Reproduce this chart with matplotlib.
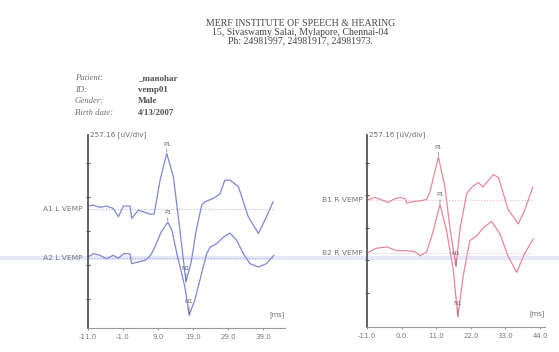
import numpy as np
import matplotlib.pyplot as plt

# header / patient block
header = ["MERF INSTITUTE OF SPEECH & HEARING",
          "15, Sivaswamy Salai, Mylapore, Chennai-04",
          "Ph: 24981997, 24981917, 24981973."]
info_keys = ["Patient:", "ID:", "Gender:", "Birth date:"]
info_vals = ["_manohar", "vemp01", "Male", "4/13/2007"]

uv_per_div = 257.16

# left ear traces: time [ms], amplitude [uV]
a1_t = [-11.0, -9.5, -7.6, -5.7, -3.8, -2.3, -0.9, 1.0, 1.5, 3.4, 6.7, 7.9, 9.6, 11.5,
        13.4, 15.0, 17.0, 18.5, 20.0, 21.5, 22.4, 24.8, 26.7, 28.1, 29.6, 32.0, 34.8,
        37.7, 40.0, 41.9]
a1_uv = [23, 30, 13, 23, 5, -58, 23, 23, -70, -8, -38, -38, 219, 421,
         244, -100, -552, -400, -150, 30, 55, 81, 113, 219, 219, 169, -58,
         -184, -58, 55]
a2_t = [-11.0, -9.5, -7.6, -5.7, -3.8, -2.3, -0.9, 1.0, 1.5, 3.4, 5.5, 6.9, 8.1, 9.9,
        11.8, 13.0, 14.4, 16.7, 17.9, 19.5, 22.9, 23.9, 25.8, 27.7, 29.6, 31.5, 33.4,
        35.3, 37.7, 40.0, 42.1]
a2_uv = [10, 35, 23, -3, 23, 0, 35, 35, -40, -28, -13, 23, 85, 199,
         274, 212, 35, -217, -431, -318, 35, 85, 111, 161, 191, 136, 35,
         -40, -66, -40, 23]

# right ear traces
b1_t = [-10.9, -8.5, -6.3, -4.2, -2.6, -0.5, 1.1, 1.6, 3.7, 6.4, 8.0, 9.0, 11.7, 13.8,
        15.4, 17.3, 18.6, 20.7, 22.3, 24.4, 25.8, 29.2, 30.8, 33.9, 37.1, 39.2, 41.7]
b1_uv = [0, 20, 0, -20, 5, 20, 10, -25, -13, -5, 5, 63, 340, 101,
         -227, -529, -227, 50, 101, 139, 101, 202, 176, -76, -189, -76, 101]
b2_t = [-10.9, -8.2, -4.7, -1.6, 1.1, 4.3, 5.9, 8.0, 10.1, 12.2, 14.3, 16.4, 17.9,
        19.6, 21.7, 23.9, 26.0, 28.6, 31.3, 33.9, 36.6, 39.2, 41.9]
b2_uv = [0, 36, 48, 18, 18, 10, -23, 10, 174, 386, 174, -129, -507,
         -179, 98, 136, 199, 250, 149, -28, -154, 0, 111]

left_ticks = ["-11.0", "-1.0", "9.0", "19.0", "29.0", "39.0"]
right_ticks = ["-11.0", "0.0", "11.0", "22.0", "33.0", "44.0"]

blue = "#7f86d6"
pink = "#e8879c"
gray = "#6a6a6a"

fig = plt.figure(figsize=(5.59, 3.52), dpi=100)
fig.patch.set_facecolor("white")

# faint scanner band
fig.add_artist(plt.Line2D([0, 1], [0.268, 0.268], transform=fig.transFigure,
                          color="#e6e8f8", lw=3, zorder=0))

for i, s in enumerate(header):
    fig.text(0.537, 1 - (24 + 8.5 * i) / 352, s, ha="center", va="center",
             fontsize=7, family="Liberation Serif", color="#454545")

for i, (k, v) in enumerate(zip(info_keys, info_vals)):
    y = 1 - (78 + 11.7 * i) / 352
    fig.text(75 / 559, y, k, fontsize=6.3, family="Liberation Serif",
             style="italic", color="#707070", va="center")
    fig.text(138 / 559, y, v, fontsize=6.5, family="Liberation Serif",
             weight="bold", color="#505050", va="center")


def panel(rect, ylim, xlim, ticks, traces, color):
    ax = fig.add_axes(rect)
    for sp in ["top", "right"]:
        ax.spines[sp].set_visible(False)
    ax.spines["left"].set_color("#555555")
    ax.spines["left"].set_linewidth(1.3)
    ax.spines["bottom"].set_color("#999999")
    ax.spines["bottom"].set_linewidth(0.8)
    ax.set_xlim(*xlim)
    ax.set_ylim(*ylim)
    tvals = [float(t) for t in ticks]
    ax.set_xticks(tvals)
    ax.set_xticklabels(ticks, fontsize=5, color="#777777")
    ax.set_yticks(range(5))
    ax.set_yticklabels([])
    ax.tick_params(axis="x", length=1.5, width=0.8, color="#999999", pad=3)
    ax.tick_params(axis="y", length=2.5, width=0.8, color="#555555", direction="inout")
    ax.patch.set_alpha(0)
    ax.text(0.01, 1.0, "257.16 [uV/div]", transform=ax.transAxes, fontsize=5.2,
            color=gray, va="center", ha="left")
    ax.text(1.0, 0.05, "[ms]", transform=ax.transAxes, fontsize=4.8,
            color=gray, va="bottom", ha="right")
    for name, t, uv, off in traces:
        y = off + np.array(uv) / uv_per_div
        ax.plot(t, y, color=color, lw=0.9)
        ax.plot([xlim[0], t[-1]], [off, off], color=color, lw=0.7, ls=(0, (1, 2)),
                alpha=0.7)
        ax.text(-0.025, off, name, transform=ax.get_yaxis_transform(), fontsize=5.4,
                color="#777777", ha="right", va="center")
        ip = int(np.argmax(uv))
        iN = int(np.argmin(uv))
        ax.annotate("P1", (t[ip], y[ip]), xytext=(0, 5), textcoords="offset points",
                    fontsize=4.5, color=gray, ha="center", va="bottom",
                    arrowprops=dict(arrowstyle="-", color=gray, lw=0.5,
                                    shrinkA=0, shrinkB=1))
        ax.annotate("N1", (t[iN], y[iN]), xytext=(0, 8), textcoords="offset points",
                    fontsize=4.5, color=gray, ha="center", va="bottom",
                    arrowprops=dict(arrowstyle="-", color=gray, lw=0.5,
                                    shrinkA=0, shrinkB=1))
    return ax


panel([88 / 559, 24 / 352, 197 / 559, 193 / 352], (-0.85, 4.83), (-11, 45.3),
      left_ticks, [("A1 L VEMP", a1_t, a1_uv, 2.65), ("A2 L VEMP", a2_t, a2_uv, 1.2)],
      blue)
panel([367 / 559, 25 / 352, 178 / 559, 192 / 352], (-1.05, 4.86), (-11, 45.6),
      right_ticks, [("B1 R VEMP", b1_t, b1_uv, 2.86), ("B2 R VEMP", b2_t, b2_uv, 1.23)],
      pink)

fig.savefig("out.png", dpi=100)
